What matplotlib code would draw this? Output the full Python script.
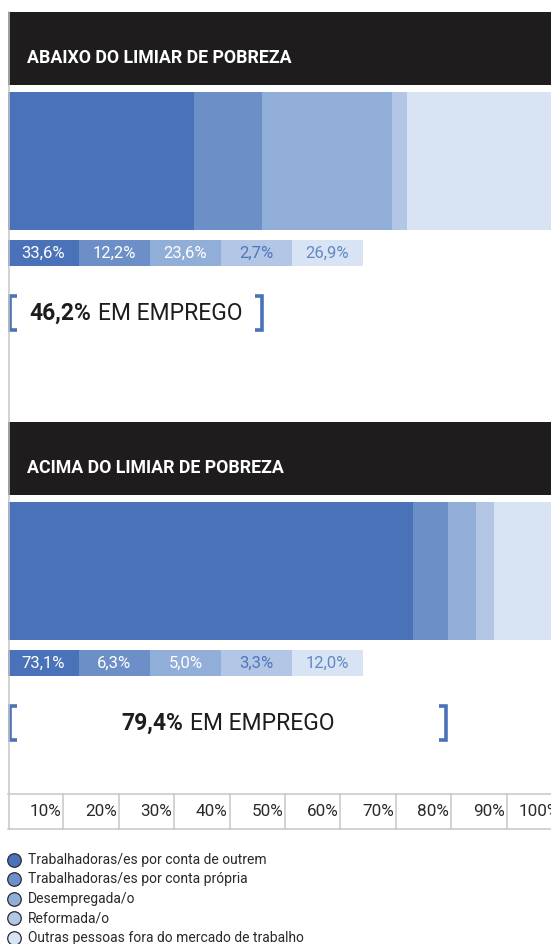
import matplotlib
matplotlib.use("Agg")
import numpy as np
import matplotlib.pyplot as plt
from matplotlib.offsetbox import TextArea, HPacker, AnnotationBbox

plt.rcParams["font.family"] = ["Roboto", "DejaVu Sans"]

# Data
categories = [
    "Trabalhadoras/es por conta de outrem",
    "Trabalhadoras/es por conta própria",
    "Desempregada/o",
    "Reformada/o",
    "Outras pessoas fora do mercado de trabalho",
]
groups = ["ABAIXO DO LIMIAR DE POBREZA", "ACIMA DO LIMIAR DE POBREZA"]
below = [33.6, 12.2, 23.6, 2.7, 26.9]
above = [73.1, 6.3, 5.0, 3.3, 12.0]
employed = [46.2, 79.4]
tick_values = [10, 20, 30, 40, 50, 60, 70, 80, 90, 100]
tick_labels = ["10%", "20%", "30%", "40%", "50%", "60%", "70%", "80%", "90%", "100%"]

colors = ["#4a72b8", "#6d8fc7", "#90aed8", "#b3c6e6", "#d8e4f3"]
label_colors = ["white", "white", "white", "#4f76ba", "#6288c4"]
dark = "#1e1c1d"
grid_col = "#c6c6c6"

W, H = 551, 944
S = 5.54      # pixels per percent
X0 = 8        # pixel of 0 %


def px(p):
    return (p - X0) / S


fig = plt.figure(figsize=(W / 100, H / 100), dpi=100)
ax = fig.add_axes([0, 0, 1, 1])
ax.set_xlim(px(0), px(W))
ax.set_ylim(H, 0)
ax.axis("off")

# section layout in pixels: header top, bar top, label top, bracket centre
sections = [
    dict(head=12, bar=92, lab=240, br=313),
    dict(head=422, bar=502, lab=650, br=723),
]

for g, vals, emp, sec in zip(groups, [below, above], employed, sections):
    # black header
    ax.axhspan(sec["head"] + 73, sec["head"], xmin=X0 / W, xmax=1, color=dark, lw=0)
    ax.text(px(27), sec["head"] + 46, g, color="white", fontsize=12.8, fontweight="bold",
            va="center", ha="left")

    # stacked bar
    lefts = np.concatenate([[0], np.cumsum(vals)[:-1]])
    ax.barh(sec["bar"] + 69, vals, left=lefts, height=138, color=colors, lw=0)

    # value boxes
    bw = 71 / S
    for i, v in enumerate(vals):
        ax.barh(sec["lab"] + 13, bw, left=i * bw, height=26, color=colors[i], lw=0)
        ax.text(i * bw + bw / 2, sec["lab"] + 13.5, f"{v:.1f}%".replace(".", ","),
                color=label_colors[i], fontsize=12,
                ha="center", va="center")

    # brackets
    y0, y1 = sec["br"] - 17, sec["br"] + 17
    t = 7 / S
    off = 1.7 / S
    ax.plot([off + t, off, off, off + t], [y0, y0, y1, y1], color="#4a72b8",
            lw=2.6, solid_joinstyle="miter", solid_capstyle="butt")
    ax.plot([emp - off - t, emp - off, emp - off, emp - off - t], [y0, y0, y1, y1],
            color="#4a72b8", lw=2.6, solid_joinstyle="miter", solid_capstyle="butt")
    t1 = TextArea(f"{emp:.1f}%".replace(".", ","),
                  textprops=dict(fontsize=16.5, fontweight="bold", color="#1e1c1d"))
    t2 = TextArea("EM EMPREGO", textprops=dict(fontsize=16.5, color="#1e1c1d"))
    box = HPacker(children=[t1, t2], align="baseline", pad=0, sep=5)
    ab = AnnotationBbox(box, (emp / 2, sec["br"]), frameon=False, box_alignment=(0.5, 0.5),
                        pad=0)
    ax.add_artist(ab)

# left rule
ax.plot([px(X0 + 0.5), px(X0 + 0.5)], [12, 829], color=grid_col, lw=1.1)

# percentage axis
ax.plot([0, px(W)], [794, 794], color=grid_col, lw=1.1)
ax.plot([0, px(W)], [829, 829], color=grid_col, lw=1.1)
for tv, tl in zip(tick_values, tick_labels):
    ax.plot([tv, tv], [794, 829], color=grid_col, lw=1.1)
    ax.text(tv - 2 / S, 812, tl, ha="right", va="center", fontsize=12.3, color="#2a2a2a")

# legend
for i, (c, lab) in enumerate(zip(colors, categories)):
    y = 860 + i * 19.4
    ax.scatter(px(14), y, s=95, color=c, edgecolors="#2b2b33", linewidths=0.9, zorder=3)
    ax.text(px(28), y, lab, ha="left", va="center", fontsize=10, color="#2a2a2a")

fig.savefig("out.png", dpi=100)
